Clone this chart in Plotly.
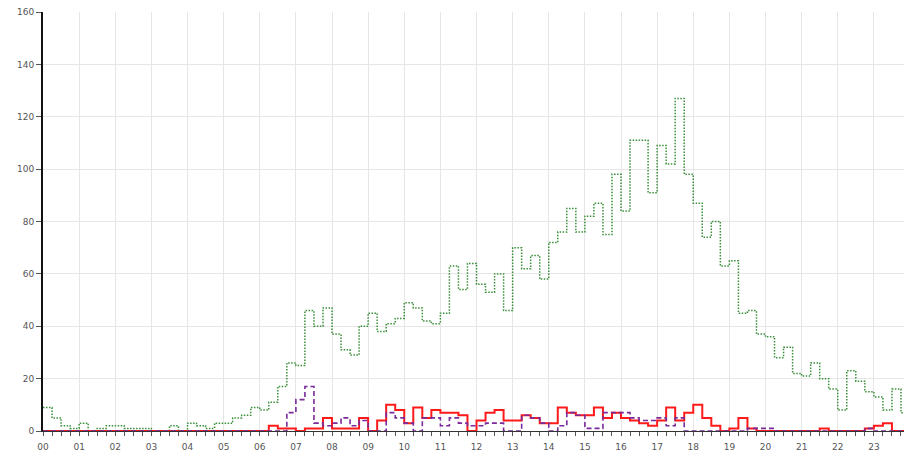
import plotly.graph_objects as go

BIN_HOURS = 0.25  # 15-minute bins

hour_labels = ["00", "01", "02", "03", "04", "05", "06", "07", "08", "09", "10", "11",
               "12", "13", "14", "15", "16", "17", "18", "19", "20", "21", "22", "23", "00"]

green_counts = [
    9, 5, 2, 1,   3, 0, 1, 2,   2, 1, 1, 1,   0, 0, 2, 0,
    3, 2, 1, 3,   3, 5, 6, 9,   8, 11, 17, 26, 25, 46, 40, 47,
    37, 31, 29, 40, 45, 38, 41, 43, 49, 47, 42, 41, 45, 63, 54, 64,
    56, 53, 60, 46, 70, 62, 67, 58, 72, 76, 85, 76, 82, 87, 75, 98,
    84, 111, 111, 91, 109, 102, 127, 98, 87, 74, 80, 63, 65, 45, 46, 37,
    36, 28, 32, 22, 21, 26, 20, 16, 8, 23, 19, 15, 13, 8, 16, 7,
]

red_counts = [
    0, 0, 0, 0,   0, 0, 0, 0,   0, 0, 0, 0,   0, 0, 0, 0,
    0, 0, 0, 0,   0, 0, 0, 0,   0, 2, 1, 1,   0, 1, 1, 5,
    1, 1, 1, 5,   0, 4, 10, 8,  3, 9, 5, 8,   7, 7, 6, 0,
    4, 7, 8, 4,   4, 6, 5, 3,   3, 9, 7, 6,   6, 9, 5, 7,
    5, 4, 3, 2,   4, 9, 4, 7,   10, 5, 2, 0,  1, 5, 1, 0,
    0, 0, 0, 0,   0, 0, 1, 0,   0, 0, 0, 1,   2, 3, 0, 0,
]

purple_counts = [
    0, 0, 0, 0,   0, 0, 0, 0,   0, 0, 0, 0,   0, 0, 0, 0,
    0, 0, 0, 0,   0, 0, 0, 0,   0, 0, 0, 7,   12, 17, 3, 2,
    3, 5, 2, 4,   0, 0, 7, 5,   3, 0, 5, 5,   2, 5, 3, 2,
    2, 3, 3, 0,   0, 6, 5, 3,   0, 2, 7, 6,   1, 1, 7, 7,
    7, 5, 4, 4,   5, 2, 5, 0,   0, 0, 0, 0,   0, 0, 1, 1,
    1, 0, 0, 0,   0, 0, 0, 0,   0, 0, 0, 1,   0, 0, 0, 0,
]


def step_xy(values):
    xs = [i * BIN_HOURS for i in range(len(values) + 1)]
    ys = list(values) + [values[-1]]
    return xs, ys


fig = go.Figure()

gx, gy = step_xy(green_counts)
fig.add_trace(go.Scatter(x=gx, y=gy, mode="lines", line_shape="hv",
                         line=dict(color="#3a8f3a", width=1.5, dash="1.5px,1.5px"),
                         hoverinfo="skip", showlegend=False))

rx, ry = step_xy(red_counts)
fig.add_trace(go.Scatter(x=rx, y=ry, mode="lines", line_shape="hv",
                         line=dict(color="#ff1a1a", width=2),
                         hoverinfo="skip", showlegend=False))

px_, py_ = step_xy(purple_counts)
fig.add_trace(go.Scatter(x=px_, y=py_, mode="lines", line_shape="hv",
                         line=dict(color="#7a2a9a", width=1.6, dash="5px,3px"),
                         hoverinfo="skip", showlegend=False))

# page body adds an 8px margin, so the figure is sized/margined to compensate
fig.update_layout(
    width=904, height=446,
    margin=dict(l=35, r=2, t=4, b=23),
    paper_bgcolor="white", plot_bgcolor="white",
    font=dict(family="DejaVu Sans, Arial, sans-serif", size=9, color="#555555"),
    showlegend=False,
)

fig.update_xaxes(
    range=[0, 24],
    tickmode="array",
    tickvals=list(range(len(hour_labels))),
    ticktext=hour_labels,
    showgrid=True, gridcolor="#e6e6e6", gridwidth=1,
    showline=True, linecolor="#333333", linewidth=1,
    ticks="outside", ticklen=4, tickcolor="#555555",
    minor=dict(dtick=BIN_HOURS, tick0=0, ticks="outside", ticklen=4,
               tickcolor="#555555", showgrid=False),
    zeroline=False,
    automargin=False,
    ticklabeloverflow="allow",
    ticklabelstandoff=3,
    tickfont=dict(size=9, color="#555555"),
)

fig.update_yaxes(
    range=[0, 160], dtick=20,
    showgrid=True, gridcolor="#e6e6e6", gridwidth=1,
    showline=True, linecolor="#111111", linewidth=2,
    ticks="outside", ticklen=5, tickcolor="#555555",
    zeroline=False,
    automargin=False,
    ticklabeloverflow="allow",
    tickfont=dict(size=9, color="#555555"),
)

fig.write_html("out.html")
